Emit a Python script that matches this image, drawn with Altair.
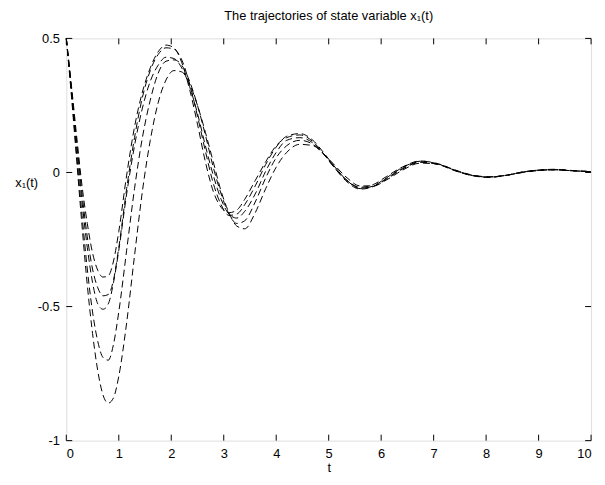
import altair as alt
import pandas as pd

# time grid (s)
t_grid = [0, 0.1, 0.2, 0.3, 0.4, 0.5, 0.6, 0.7, 0.8, 0.9, 1.0, 1.15, 1.3, 1.45, 1.6,
          1.75, 1.9, 2.05, 2.2, 2.35, 2.5, 2.65, 2.8, 2.95, 3.1, 3.25, 3.4, 3.6, 3.8,
          4.0, 4.2, 4.45, 4.7, 4.9, 5.1, 5.35, 5.6, 5.85, 6.1, 6.4, 6.75, 7.1, 7.4,
          7.7, 8.05, 8.4, 8.7, 9.0, 9.3, 9.6, 10.0]

x1_a = [0.50, 0.32, 0.13, -0.05, -0.19, -0.30, -0.365, -0.39, -0.385, -0.33, -0.22,
        -0.01, 0.17, 0.30, 0.39, 0.45, 0.475, 0.465, 0.41, 0.31, 0.18, 0.04, -0.07,
        -0.13, -0.15, -0.14, -0.10, -0.03, 0.04, 0.10, 0.13, 0.14, 0.115, 0.07,
        0.02, -0.03, -0.055, -0.045, -0.015, 0.02, 0.043, 0.03, 0.007, -0.01,
        -0.018, -0.01, 0.002, 0.009, 0.012, 0.008, 0.003]
x1_b = [0.50, 0.31, 0.11, -0.08, -0.24, -0.36, -0.43, -0.46, -0.455, -0.40, -0.28,
        -0.06, 0.13, 0.28, 0.38, 0.44, 0.465, 0.46, 0.42, 0.33, 0.21, 0.08, -0.04,
        -0.12, -0.16, -0.155, -0.12, -0.05, 0.03, 0.095, 0.135, 0.145, 0.12, 0.075,
        0.025, -0.03, -0.06, -0.05, -0.02, 0.018, 0.042, 0.032, 0.008, -0.01,
        -0.017, -0.01, 0.002, 0.009, 0.011, 0.007, 0.003]
x1_c = [0.50, 0.30, 0.09, -0.11, -0.28, -0.41, -0.49, -0.51, -0.49, -0.41, -0.29,
        -0.08, 0.10, 0.24, 0.34, 0.40, 0.43, 0.425, 0.39, 0.32, 0.22, 0.10, -0.01,
        -0.10, -0.155, -0.17, -0.145, -0.08, 0.005, 0.075, 0.12, 0.13, 0.11, 0.07,
        0.02, -0.035, -0.062, -0.052, -0.022, 0.015, 0.04, 0.03, 0.008, -0.01,
        -0.018, -0.01, 0.002, 0.008, 0.01, 0.007, 0.003]
x1_d = [0.50, 0.29, 0.06, -0.16, -0.36, -0.52, -0.63, -0.69, -0.70, -0.64, -0.52,
        -0.29, -0.06, 0.13, 0.27, 0.37, 0.415, 0.42, 0.40, 0.34, 0.25, 0.14, 0.02,
        -0.08, -0.155, -0.19, -0.18, -0.11, -0.02, 0.055, 0.10, 0.12, 0.105, 0.07,
        0.025, -0.03, -0.058, -0.052, -0.025, 0.012, 0.038, 0.03, 0.009, -0.009,
        -0.017, -0.01, 0.001, 0.008, 0.01, 0.007, 0.003]
x1_e = [0.50, 0.28, 0.04, -0.20, -0.42, -0.60, -0.74, -0.83, -0.86, -0.84, -0.76,
        -0.56, -0.31, -0.07, 0.12, 0.26, 0.345, 0.38, 0.375, 0.33, 0.25, 0.15, 0.04,
        -0.07, -0.15, -0.20, -0.21, -0.15, -0.06, 0.02, 0.075, 0.105, 0.10, 0.07,
        0.03, -0.02, -0.05, -0.05, -0.028, 0.008, 0.035, 0.03, 0.01, -0.008,
        -0.016, -0.01, 0.0, 0.007, 0.01, 0.007, 0.003]

x_ticks = [0, 1, 2, 3, 4, 5, 6, 7, 8, 9, 10]
y_ticks = [-1, -0.5, 0, 0.5]

series = {"a": x1_a, "b": x1_b, "c": x1_c, "d": x1_d, "e": x1_e}
rows = []
for name, vals in series.items():
    for t, v in zip(t_grid, vals):
        rows.append({"t": t, "x1": v, "run": name})
df = pd.DataFrame(rows)

W, H = 531, 407
FONT = "Liberation Sans"

xs = alt.Scale(domain=[0, 10], nice=False, zero=False)
ys = alt.Scale(domain=[-1, 0.5], nice=False, zero=False)

lines = alt.Chart(df).mark_line(
    color="black", strokeWidth=1, strokeDash=[7, 4], interpolate="monotone"
).encode(
    x=alt.X("t:Q", scale=xs, axis=alt.Axis(
        values=x_ticks, title="t", grid=False, domain=False, ticks=False,
        labelPadding=7, labelFontSize=13, labelFont=FONT, labelColor="black",
        titleFont=FONT, titleFontSize=13, titleFontWeight="normal", titleColor="black",
        titlePadding=1)),
    y=alt.Y("x1:Q", scale=ys, axis=alt.Axis(
        values=y_ticks, title="x₁(t)", grid=False, domain=False, ticks=False,
        labelExpr="'' + datum.value", labelPadding=7, labelFontSize=13,
        labelFont=FONT, labelColor="black",
        titleFont=FONT, titleFontSize=13, titleFontWeight="normal", titleColor="black",
        titleAngle=0, titleAlign="right", titleBaseline="middle",
        titleX=-29, titleY=146)),
    detail="run:N",
)

xt = pd.DataFrame({"v": x_ticks})
yt = pd.DataFrame({"v": y_ticks})
TL = 6
ticks_bottom = alt.Chart(xt).mark_rule(color="black", strokeWidth=1).encode(
    x=alt.X("v:Q", scale=xs), y=alt.value(H), y2=alt.value(H - TL))
ticks_top = alt.Chart(xt).mark_rule(color="black", strokeWidth=1).encode(
    x=alt.X("v:Q", scale=xs), y=alt.value(0), y2=alt.value(TL))
ticks_left = alt.Chart(yt).mark_rule(color="black", strokeWidth=1).encode(
    y=alt.Y("v:Q", scale=ys), x=alt.value(0), x2=alt.value(TL))
ticks_right = alt.Chart(yt).mark_rule(color="black", strokeWidth=1).encode(
    y=alt.Y("v:Q", scale=ys), x=alt.value(W), x2=alt.value(W - TL))

chart = alt.layer(lines, ticks_bottom, ticks_top, ticks_left, ticks_right).properties(
    width=W, height=H,
    title=alt.TitleParams("The trajectories of state variable x₁(t)", font=FONT,
                          fontSize=13, fontWeight="normal", color="black",
                          anchor="middle", offset=10),
    padding={"left": 59, "top": 28, "right": 6, "bottom": 33},
    autosize=alt.AutoSizeParams(type="none"),
).configure_view(stroke="black", strokeWidth=1).configure(background="white")

chart.save("out.html", embed_options={"renderer": "svg", "actions": False})
